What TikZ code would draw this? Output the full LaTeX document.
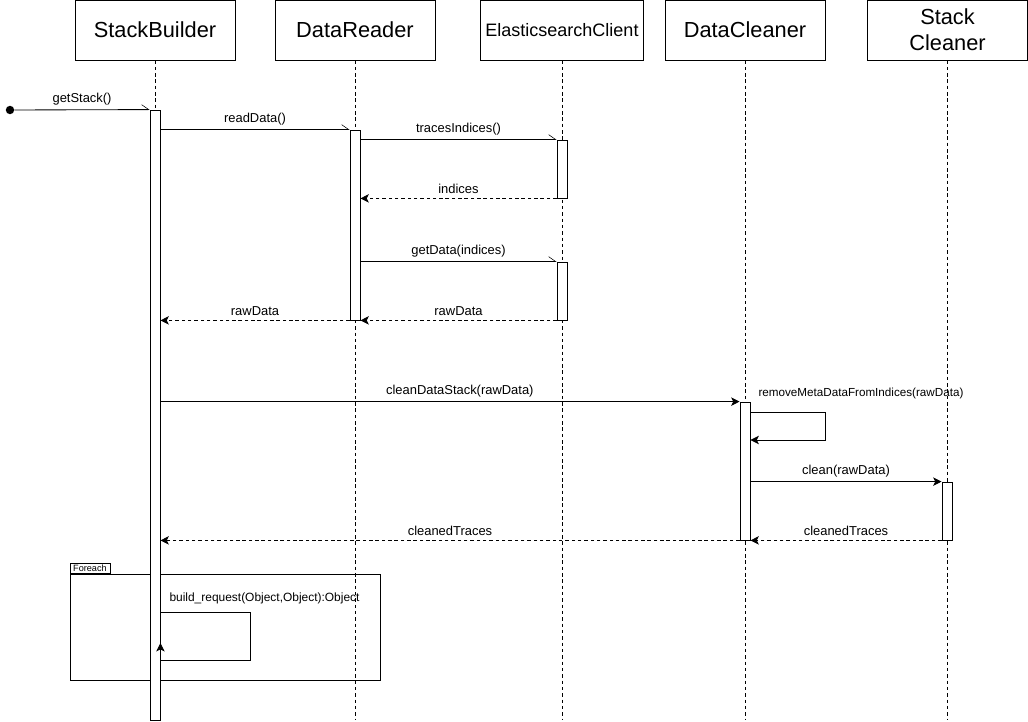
\documentclass[tikz,border=0pt]{standalone}
\usepackage{fontspec}
\setmainfont{Liberation Sans}
\usetikzlibrary{arrows.meta,fit}

\begin{document}
\begin{tikzpicture}[x=0.025cm,y=-0.025cm]
\tikzstyle{head}=[rectangle,draw,line width=0.6pt,minimum width=4cm,minimum height=1.5cm,font=\fontsize{15.5}{16}\selectfont,align=center]
\tikzstyle{life}=[draw,line width=0.6pt,dash pattern=on 2.5pt off 2pt]
\tikzstyle{act}=[rectangle,draw,fill=white,line width=0.6pt,inner sep=0pt]
\tikzstyle{call}=[line width=0.6pt,-{Straight Barb[harpoon,length=5pt,width=7pt,line width=0.4pt]}]
\tikzstyle{msg}=[line width=0.6pt,-{Stealth[length=6pt,width=6pt,inset=1.5pt]}]
\tikzstyle{ret}=[msg,dash pattern=on 2.5pt off 2pt]
\tikzstyle{lbl}=[font=\fontsize{9.2}{10}\selectfont,inner sep=3pt]
\useasboundingbox (0,0) rectangle (1028,722);
% participants
\node [head] (sb) at (155,30) {StackBuilder};
\node [head] (dr) at (355,30) {DataReader};
\node [head,font=\fontsize{12.8}{14}\selectfont] (es) at (562,30) {ElasticsearchClient};
\node [head] (dc) at (745,30) {DataCleaner};
\node [head,font=\fontsize{15.5}{18.2}\selectfont] (sc) at (947.5,30) {Stack\\Cleaner};
\foreach \p in {sb,dr,es,dc,sc}
  \draw [life] (\p.south) -- (\p.south |- 0,720);
% foreach frame
\node [rectangle,draw,line width=0.6pt,inner sep=0pt,fit={(70,574) (380,680)}] (loop) {};
\node [rectangle,draw,line width=0.5pt,anchor=south west,inner sep=1pt,minimum width=1cm,align=left,font=\fontsize{6.5}{7}\selectfont] (tab) at (loop.north west) {Foreach\hfill};
% activations
\node [act,fit={(150,110) (160,720)}] (sbA) {};
\node [act,fit={(350,130) (360,320)}] (drA) {};
\node [act,fit={(557,140) (567,198)}] (esA1) {};
\node [act,fit={(557,262) (567,320)}] (esA2) {};
\node [act,fit={(740,402) (750,540)}] (dcA) {};
\node [act,fit={(942,482) (952,540)}] (scA) {};
\node [circle,fill,inner sep=0pt,minimum size=6pt] (start) at (10,110) {};
% messages
\draw [call] (start) -- node[lbl,above] {getStack()} (sbA.north west);
\draw [call] (sbA.east |- drA.north) -- node[lbl,above] {readData()} (drA.north west);
\draw [call] (drA.east |- esA1.north) -- node[lbl,above] {tracesIndices()} (esA1.north west);
\draw [ret] (esA1.south west) -- node[lbl,above] {indices} (drA.east |- esA1.south);
\draw [call] (drA.east |- esA2.north) -- node[lbl,above] {getData(indices)} (esA2.north west);
\draw [ret] (esA2.south west) -- node[lbl,above] {rawData} (drA.south east);
\draw [ret] (drA.south west) -- node[lbl,above] {rawData} (sbA.east |- drA.south);
\draw [msg] (sbA.east |- dcA.north) -- node[lbl,above,xshift=7] {cleanDataStack(rawData)} (dcA.north west);
\coordinate (rm1) at (825,412);
\coordinate (rm2) at (825,440);
\draw [msg] (dcA.east |- rm1) -- (rm1) -- (rm2) -- (dcA.east |- rm2);
\node [lbl,anchor=south west,font=\fontsize{8.3}{9}\selectfont] (rmLbl) at (754,403) {removeMetaDataFromIndices(rawData)};
\draw [msg] (dcA.east |- scA.north) -- node[lbl,above] {clean(rawData)} (scA.north west);
\draw [ret] (scA.south west) -- node[lbl,above] {cleanedTraces} (dcA.south east);
\draw [ret] (dcA.south west) -- node[lbl,above] {cleanedTraces} (sbA.east |- dcA.south);
\coordinate (br1) at (250,612);
\coordinate (br2) at (250,660);
\draw [line width=0.6pt] (sbA.east |- br1) -- (br1) -- (br2) -- (sbA.east |- br2);
\draw [msg] (sbA.east |- br2) -- ++(0,-17);
\node [lbl,anchor=south west,font=\fontsize{8.5}{9}\selectfont] (brLbl) at (165,608) {build\_request(Object,Object):Object};
\end{tikzpicture}
\end{document}
